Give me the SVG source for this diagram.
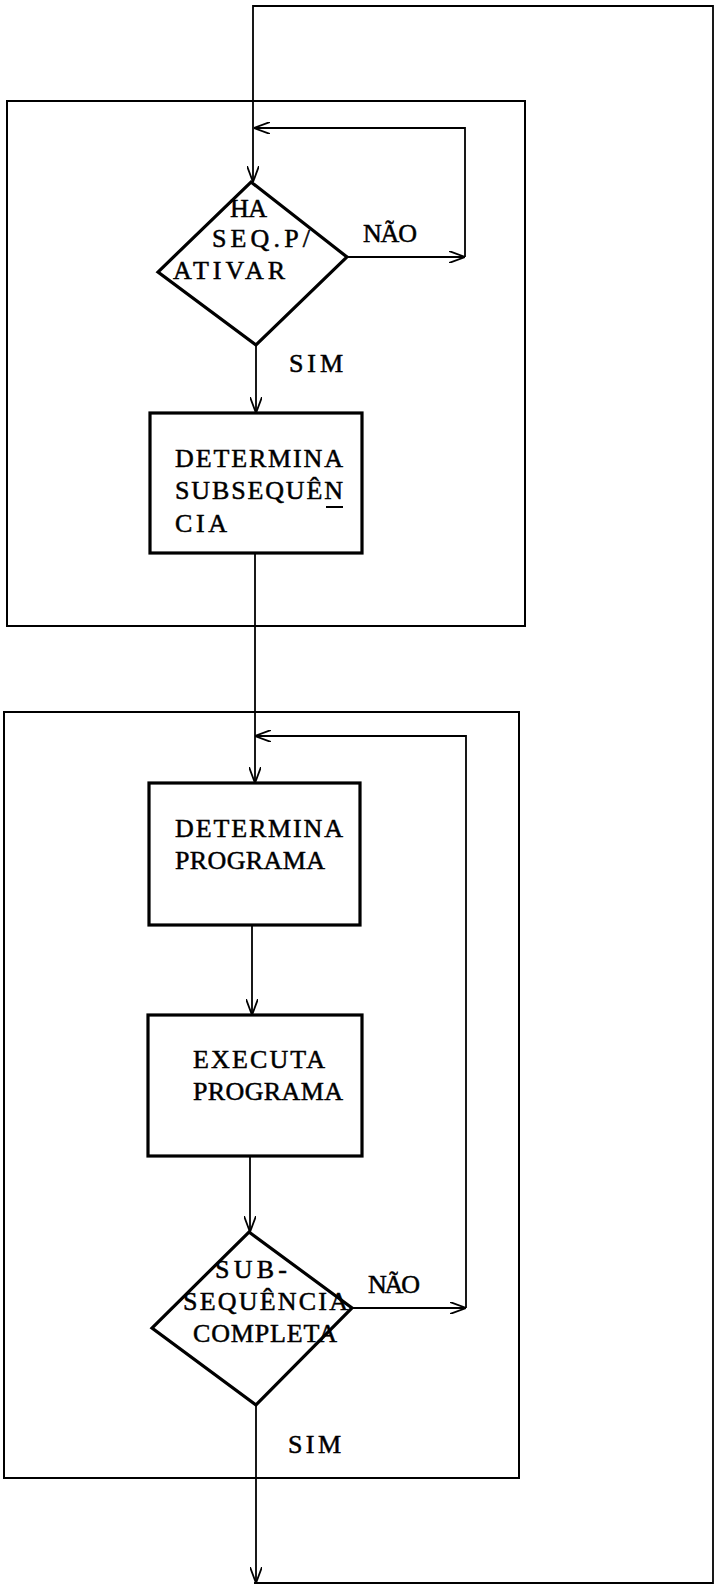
<svg xmlns="http://www.w3.org/2000/svg" width="716" height="1585" viewBox="0 0 716 1585">
<style>
.frame{fill:none;stroke:#000;stroke-width:2}
.box{fill:none;stroke:#000;stroke-width:3.2}
.dia{fill:none;stroke:#000;stroke-width:3.2;stroke-linejoin:miter}
.con{fill:none;stroke:#000;stroke-width:1.8}
text{font-family:"Liberation Serif","Times New Roman",serif;font-size:26px;fill:#000;stroke:#000;stroke-width:0.5}
</style>
<defs>
<marker id="arr" viewBox="0 0 16 12" refX="16" refY="6" markerWidth="16" markerHeight="12" markerUnits="userSpaceOnUse" orient="auto">
<path d="M0,0 L16,6 L0,12" fill="none" stroke="#000" stroke-width="1.8"/>
</marker>
</defs>
<rect width="716" height="1585" fill="#fff"/>
<g id="frame-1"><rect class="frame" x="7" y="101" width="518" height="525"/></g>
<g id="frame-2"><rect class="frame" x="4" y="712" width="515" height="766"/></g>
<g id="connectors">
<path class="con" d="M254,1583 H713 V6 H253 V182" marker-end="url(#arr)"/>
<path class="con" d="M465,257 V128 H254" marker-end="url(#arr)"/>
<path class="con" d="M347,257 H465" marker-end="url(#arr)"/>
<path class="con" d="M256,345 V413" marker-end="url(#arr)"/>
<path class="con" d="M255,553 V783" marker-end="url(#arr)"/>
<path class="con" d="M466,1308 V736 H255" marker-end="url(#arr)"/>
<path class="con" d="M252,925 V1015" marker-end="url(#arr)"/>
<path class="con" d="M250,1156 V1232" marker-end="url(#arr)"/>
<path class="con" d="M352,1308 H466" marker-end="url(#arr)"/>
<path class="con" d="M256,1405 V1583" marker-end="url(#arr)"/>
</g>
<g id="dec-1">
<polygon class="dia" points="251,182 347,257 256,345 158,272"/>
<text x="230" y="217" textLength="37" lengthAdjust="spacing">HA</text>
<text x="212" y="247" textLength="98" lengthAdjust="spacing">SEQ.P/</text>
<text x="173" y="279" textLength="112" lengthAdjust="spacing">ATIVAR</text>
</g>
<g id="label-nao-1"><text x="363" y="242" textLength="54" lengthAdjust="spacing">NÃO</text></g>
<g id="label-sim-1"><text x="289" y="372" textLength="54" lengthAdjust="spacing">SIM</text></g>
<g id="box-det-subseq">
<rect class="box" x="150" y="413" width="212" height="140"/>
<text x="175" y="467" textLength="168" lengthAdjust="spacing">DETERMINA</text>
<text x="175" y="499" textLength="168" lengthAdjust="spacing">SUBSEQUÊN</text>
<line x1="326" y1="507" x2="343" y2="507" stroke="#000" stroke-width="2"/>
<text x="175" y="532" textLength="52" lengthAdjust="spacing">CIA</text>
</g>
<g id="box-det-prog">
<rect class="box" x="149" y="783" width="211" height="142"/>
<text x="175" y="837" textLength="168" lengthAdjust="spacing">DETERMINA</text>
<text x="175" y="869" textLength="150" lengthAdjust="spacing">PROGRAMA</text>
</g>
<g id="box-exec-prog">
<rect class="box" x="148" y="1015" width="214" height="141"/>
<text x="193" y="1068" textLength="132" lengthAdjust="spacing">EXECUTA</text>
<text x="193" y="1100" textLength="150" lengthAdjust="spacing">PROGRAMA</text>
</g>
<g id="dec-2">
<polygon class="dia" points="249,1232 352,1308 256,1405 152,1328"/>
<text x="215" y="1278" textLength="72" lengthAdjust="spacing">SUB-</text>
<text x="183" y="1310" textLength="165" lengthAdjust="spacing">SEQUÊNCIA</text>
<text x="193" y="1342" textLength="144" lengthAdjust="spacing">COMPLETA</text>
</g>
<g id="label-nao-2"><text x="368" y="1293" textLength="52" lengthAdjust="spacing">NÃO</text></g>
<g id="label-sim-2"><text x="288" y="1453" textLength="53" lengthAdjust="spacing">SIM</text></g>
</svg>
